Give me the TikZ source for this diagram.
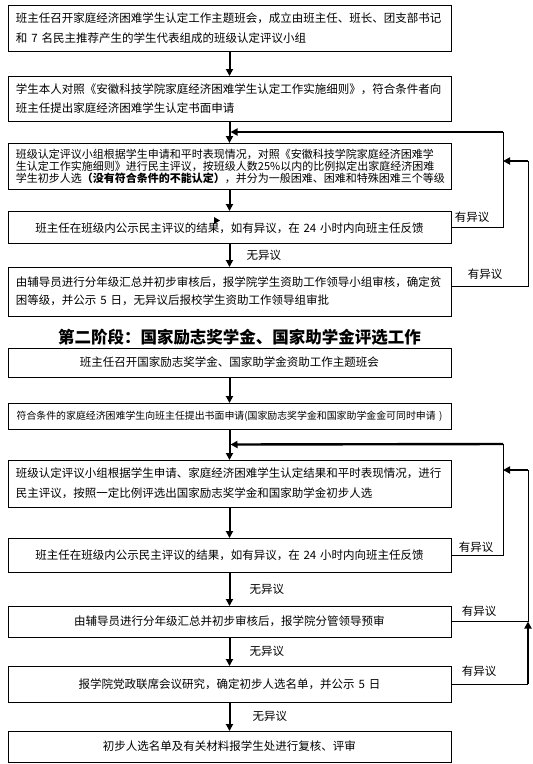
\documentclass[tikz,border=0pt]{standalone}
\usepackage{fontspec}
\setmainfont{Noto Sans CJK SC}
\usetikzlibrary{arrows.meta,calc,positioning}
\tikzset{
  stepbox/.style={draw,line width=1pt,outer sep=0pt,inner xsep=8pt,inner ysep=1pt,text width=427pt,align=left,font=\fontsize{11.5}{19}\selectfont},
  flow/.style={line width=2pt,-{Triangle[length=7pt,width=7pt]}},
  back/.style={line width=0.8pt},
  backflow/.style={line width=2.4pt,-{Triangle[length=7pt,width=7pt]}},
  lbl/.style={font=\fontsize{11.5}{12}\selectfont,inner sep=0pt}
}
\begin{document}
\begin{tikzpicture}[x=1pt,y=-1pt]
\useasboundingbox (0,0) rectangle (533,764);
% first stage
\node[stepbox,minimum height=46pt,font=\fontsize{11.5}{20}\selectfont] (b1) at (229.5,28) {班主任召开家庭经济困难学生认定工作主题班会，成立由班主任、班长、团支部书记\\和 7 名民主推荐产生的学生代表组成的班级认定评议小组};
\node[stepbox,minimum height=45pt,below=25pt of b1] (b2) {学生本人对照《安徽科技学院家庭经济困难学生认定工作实施细则》，符合条件者向\\班主任提出家庭经济困难学生认定书面申请};
\node[stepbox,minimum height=46pt,below=22pt of b2,font=\fontsize{11}{12}\selectfont] (b3) {班级认定评议小组根据学生申请和平时表现情况，对照《安徽科技学院家庭经济困难学\\生认定工作实施细则》进行民主评议，按班级人数25\%以内的比例拟定出家庭经济困难\\学生初步人选\textbf{（没有符合条件的不能认定）}，并分为一般困难、困难和特殊困难三个等级};
\node[stepbox,minimum height=32pt,below=22pt of b3,align=center] (b4) {\\[-7pt]班主任在班级内公示民主评议的结果，如有异议，在 24 小时内向班主任反馈};
\node[stepbox,minimum height=49pt,below=24pt of b4,font=\fontsize{11.5}{18}\selectfont] (b5) {由辅导员进行分年级汇总并初步审核后，报学院学生资助工作领导小组审核，确定贫\\困等级，并公示 5 日，无异议后报校学生资助工作领导组审批};
\fill (214,217) -- (220,220.5) -- (214,224) -- cycle;
% second stage
\node[font=\fontsize{16.5}{18}\selectfont\bfseries,below=10pt of b5,xshift=10pt] (title) {第二阶段：国家励志奖学金、国家助学金评选工作};
\node[stepbox,minimum height=29pt,below=32pt of b5,align=center] (b6) {班主任召开国家励志奖学金、国家助学金资助工作主题班会};
\node[stepbox,minimum height=26pt,below=26pt of b6,align=center,font=\fontsize{9.9}{12}\selectfont] (b7) {符合条件的家庭经济困难学生向班主任提出书面申请(国家励志奖学金和国家助学金金可同时申请 )};
\node[stepbox,minimum height=47pt,below=31pt of b7,font=\fontsize{11.5}{20}\selectfont] (b8) {班级认定评议小组根据学生申请、家庭经济困难学生认定结果和平时表现情况，进行\\民主评议，按照一定比例评选出国家励志奖学金和国家助学金初步人选};
\node[stepbox,minimum height=34pt,below=31pt of b8,align=center] (b9) {班主任在班级内公示民主评议的结果，如有异议，在 24 小时内向班主任反馈};
\node[stepbox,minimum height=31pt,below=34pt of b9,align=center] (b10) {由辅导员进行分年级汇总并初步审核后，报学院分管领导预审};
\node[stepbox,minimum height=36pt,below=29pt of b10,align=center] (b11) {报学院党政联席会议研究，确定初步人选名单，并公示 5 日};
\node[stepbox,minimum height=31pt,below=29pt of b11,align=center] (b12) {初步人选名单及有关材料报学生处进行复核、评审};
% main flow
\draw[flow] (b1) -- (b2);
\draw[flow] (b2) -- (b3);
\draw[flow] (b3) -- (b4);
\draw[flow] (b4) -- node[lbl,anchor=west,xshift=16pt] (n1) {无异议} (b5);
\draw[flow] (b6) -- (b7);
\draw[flow] (b7) -- (b8);
\draw[flow] (b8) -- (b9);
\draw[flow] (b9) -- node[lbl,anchor=west,xshift=19pt] (n2) {无异议} (b10);
\draw[flow] (b10) -- node[lbl,anchor=west,xshift=19pt] (n3) {无异议} (b11);
\draw[flow] (b11) -- node[lbl,anchor=west,xshift=22pt] (n4) {无异议} (b12);
% objections, first stage
\coordinate (j1) at ($(b2.south)!0.5!(b3.north)$);
\coordinate (r1) at (503,132);
\coordinate (s1) at (528,161);
\draw[back] (b4.east) -| (r1);
\draw[backflow,shorten >=1pt] (r1) -- (j1);
\draw[back] ([yshift=5pt]b5.east) -| (s1);
\draw[backflow] (s1) -- (s1 -| r1);
\node[lbl] (o1) at ([xshift=21pt,yshift=10pt]b4.east) {有异议};
\node[lbl] (o2) at ([xshift=34pt,yshift=17pt]b5.east) {有异议};
% objections, second stage
\coordinate (j2) at ($(b7.south)!0.5!(b8.north)$);
\coordinate (r2) at (503,444);
\coordinate (s2) at (528,470);
\draw[back] (b9.east) -| (r2);
\draw[backflow,shorten >=1pt] (r2) -- (j2);
\draw[back] (b10.east) -| (s2);
\draw[backflow] (s2) -- (s2 -| r2);
\draw[back] (b11.east) -- (b11.east -| s2);
\draw[flow] (b11.east -| s2) -- (b10.east -| s2);
\node[lbl] (o3) at ([xshift=25pt,yshift=8pt]b9.east) {有异议};
\node[lbl] (o4) at ([xshift=28pt,yshift=10pt]b10.east) {有异议};
\node[lbl] (o5) at ([xshift=28pt,yshift=13pt]b11.east) {有异议};
\end{tikzpicture}
\end{document}
